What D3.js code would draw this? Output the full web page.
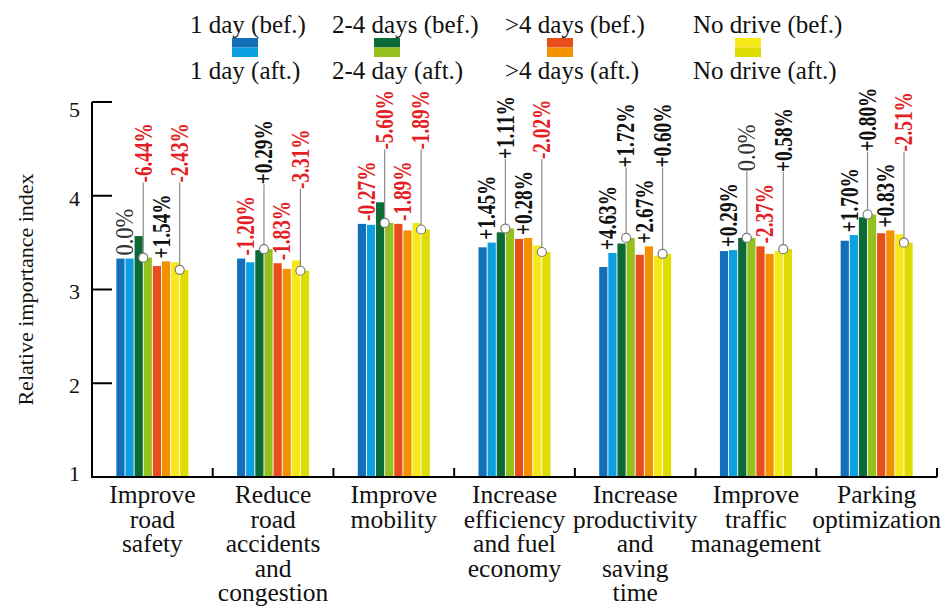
<!DOCTYPE html>
<html><head><meta charset="utf-8">
<script src="https://cdn.jsdelivr.net/npm/d3@7"></script>
<style>body{margin:0;background:#fff}svg{display:block}</style>
</head><body><svg id="chart" width="951" height="609"></svg>
<script>
const categories = [
  ["Improve","road","safety"],
  ["Reduce","road","accidents","and","congestion"],
  ["Improve","mobility"],
  ["Increase","efficiency","and fuel","economy"],
  ["Increase","productivity","and","saving","time"],
  ["Improve","traffic","management"],
  ["Parking","optimization"]
];
const seriesNames = ["1 day (bef.)","1 day (aft.)","2-4 days (bef.)","2-4 day (aft.)",">4 days (bef.)",">4 days (aft.)","No drive (bef.)","No drive (aft.)"];
const oneDayBef   = [3.33, 3.33, 3.70, 3.45, 3.24, 3.41, 3.52];
const oneDayAft   = [3.33, 3.29, 3.69, 3.50, 3.39, 3.42, 3.58];
const twoFourBef  = [3.57, 3.42, 3.93, 3.61, 3.49, 3.55, 3.77];
const twoFourAft  = [3.34, 3.43, 3.71, 3.65, 3.55, 3.55, 3.80];
const moreFourBef = [3.25, 3.28, 3.70, 3.54, 3.37, 3.46, 3.60];
const moreFourAft = [3.30, 3.22, 3.63, 3.55, 3.46, 3.38, 3.63];
const noDriveBef  = [3.29, 3.31, 3.71, 3.47, 3.36, 3.41, 3.59];
const noDriveAft  = [3.21, 3.20, 3.64, 3.40, 3.38, 3.43, 3.50];
const oneDayChange   = ["0.0%","-1.20%","-0.27%","+1.45%","+4.63%","+0.29%","+1.70%"];
const twoFourChange  = ["-6.44%","+0.29%","-5.60%","+1.11%","+1.72%","0.0%","+0.80%"];
const moreFourChange = ["+1.54%","-1.83%","-1.89%","+0.28%","+2.67%","-2.37%","+0.83%"];
const noDriveChange  = ["-2.43%","-3.31%","-1.89%","-2.02%","+0.60%","+0.58%","-2.51%"];
const yTicks = [1,2,3,4,5];
const yTitle = "Relative importance index";

const colors = ["#1170b8","#0ca0e0","#0b6a35","#95c11f","#e84e1b","#f39200","#f7e81a","#dedc00"];
const seriesValues = [oneDayBef, oneDayAft, twoFourBef, twoFourAft, moreFourBef, moreFourAft, noDriveBef, noDriveAft];
const changes = [oneDayChange, twoFourChange, moreFourChange, noDriveChange];

(function draw() {
const svg = d3.select("#chart");
const serif = "'Liberation Serif', 'Times New Roman', serif";
const mLeft = 92, mRight = 937, mTop = 102, mBottom = 477;

const x = d3.scaleBand().domain(d3.range(categories.length)).range([mLeft, mRight]).padding(0);
const y = d3.scaleLinear().domain([1,5]).range([mBottom, mTop]);
const barsW = 72;
const xs = d3.scaleBand().domain(d3.range(8)).range([-barsW/2, barsW/2]).paddingInner(0.1).paddingOuter(0);
const step = xs.step();

// bars
const g = svg.append("g");
categories.forEach((c, ci) => {
  const cx = x(ci) + x.bandwidth()/2;
  seriesValues.forEach((vals, si) => {
    g.append("rect")
      .attr("x", cx + xs(si))
      .attr("y", y(vals[ci]))
      .attr("width", xs.bandwidth())
      .attr("height", y(1) - y(vals[ci]))
      .attr("fill", colors[si]);
  });
});

// axes
svg.append("line").attr("x1", mLeft).attr("x2", mLeft).attr("y1", y(5)).attr("y2", y(1))
  .attr("stroke","#000").attr("stroke-width",2);
svg.append("line").attr("x1", mLeft-1).attr("x2", mRight).attr("y1", y(1)).attr("y2", y(1))
  .attr("stroke","#000").attr("stroke-width",2);
yTicks.forEach(t => {
  svg.append("line").attr("x1", mLeft).attr("x2", mLeft+20).attr("y1", y(t)).attr("y2", y(t))
    .attr("stroke","#000").attr("stroke-width",2);
  svg.append("text").attr("x", 80).attr("y", y(t)).attr("dy", t===5? "0.7em" : (t===1? "0.2em":"0.45em"))
    .attr("text-anchor","end").attr("font-family", serif).attr("font-size", 22).attr("fill","#111").text(t);
});
d3.range(1, categories.length + 1).forEach(i => {
  const xv = i < categories.length ? x(i) : mRight;
  svg.append("line").attr("x1", xv).attr("x2", xv).attr("y1", y(1)).attr("y2", y(1)-9)
    .attr("stroke","#000").attr("stroke-width",2);
});
svg.append("text").attr("transform", `translate(33,${(y(5)+y(1))/2}) rotate(-90)`)
  .attr("text-anchor","middle").attr("font-family", serif).attr("font-size", 22).attr("fill","#111").text(yTitle);

// category labels (one text per line)
categories.forEach((lines, ci) => {
  const cx = x(ci) + x.bandwidth()/2;
  lines.forEach((ln, li) => svg.append("text").attr("x", cx).attr("y", 503 + li*24.5)
    .attr("text-anchor","middle").attr("font-family", serif)
    .attr("font-size", 25.5).attr("fill","#111").text(ln));
});

// change labels
const fs = 25, sx = 0.77;
function addLabel(px, bottomY, txt) {
  const zero = txt === "0.0%";
  const col = txt.startsWith("-") ? "#e31e24" : (zero ? "#333" : "#111");
  const s = zero ? 0.9 : sx;
  const t = svg.append("text")
    .attr("transform", `translate(${px},${bottomY}) rotate(-90) scale(${s},1)`)
    .attr("dy","0.33em").attr("font-family", serif).attr("font-size", fs)
    .attr("font-weight", zero ? "normal" : "bold").attr("fill", col).text(txt);
  const len = t.node().getComputedTextLength() * s;
  return bottomY - len;
}
categories.forEach((c, ci) => {
  const cx = x(ci) + x.bandwidth()/2;
  const pc = p => cx + xs(2*p) + step - (step - xs.bandwidth())/2;
  const tops = [];
  [0,2].forEach(p => {
    const yb = Math.min(y(seriesValues[2*p][ci]), y(seriesValues[2*p+1][ci])) - 3;
    tops[p] = addLabel(pc(p), yb, changes[p][ci]);
  });
  [1,3].forEach(p => {
    const neighbor = p === 1 ? Math.min(tops[0], tops[2]) : tops[2];
    const lb = neighbor - 12;
    const cy = y(seriesValues[2*p+1][ci]);
    svg.append("line").attr("x1", pc(p)).attr("x2", pc(p)).attr("y1", lb).attr("y2", cy)
      .attr("stroke","#8a8a8a").attr("stroke-width",1.2);
    svg.append("circle").attr("cx", pc(p)).attr("cy", cy).attr("r", 4.5)
      .attr("fill","#fff").attr("stroke","#7a7a7a").attr("stroke-width",1.2);
    addLabel(pc(p), lb, changes[p][ci]);
  });
});

// legend
const legendX = [190, 332, 505, 693];
[0,1,2,3].forEach(k => {
  const lx = legendX[k];
  svg.append("text").attr("x", lx).attr("y", 33).attr("font-family", serif).attr("font-size", 25)
    .attr("fill","#111").text(seriesNames[2*k]);
  svg.append("text").attr("x", lx).attr("y", 79).attr("font-family", serif).attr("font-size", 25)
    .attr("fill","#111").text(seriesNames[2*k+1]);
  svg.append("rect").attr("x", lx+42).attr("y", 38).attr("width", 26).attr("height", 9.5).attr("fill", colors[2*k]);
  svg.append("rect").attr("x", lx+42).attr("y", 47.5).attr("width", 26).attr("height", 9.5).attr("fill", colors[2*k+1]);
});
})();
</script></body></html>
